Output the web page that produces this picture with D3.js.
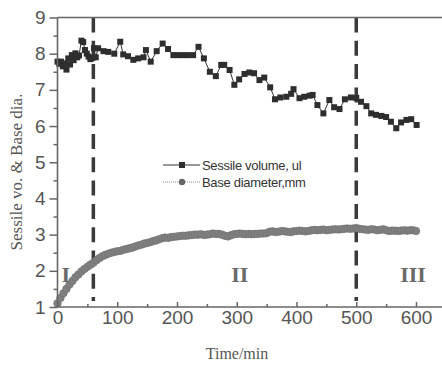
<!DOCTYPE html>
<html>
<head>
<meta charset="utf-8">
<script src="https://cdn.jsdelivr.net/npm/d3@7"></script>
<style>
  body { margin: 0; background: #fff; }
  svg { display: block; }
</style>
</head>
<body>
<div id="chart"></div>
<script>
// Sessile volume (squares), irregular times
const volTime = [0, 3, 6, 9, 12, 15, 18, 21, 24, 27, 30, 33, 36, 40, 43, 46, 49, 52, 55, 58, 61, 64,
  68, 77, 85, 95, 105, 110, 118, 127, 135, 144, 148, 156, 166, 176, 185, 194, 202, 210, 218, 227,
  236, 245, 255, 265, 274, 279, 288, 296, 304, 313, 321, 329, 338, 346, 356, 364, 373, 383, 391,
  395, 405, 413, 422, 427, 435, 445, 455, 463, 472, 481, 491, 500, 508, 517, 525, 533, 542, 550,
  558, 567, 575, 584, 592, 601];
const volValue = [7.78, 7.72, 7.78, 7.65, 7.73, 7.56, 7.87, 7.70, 7.96, 7.82, 8.01, 7.90, 7.95, 8.36, 8.32, 8.10, 8.00, 7.92, 7.85, 7.88, 8.15, 7.90,
  8.15, 8.07, 8.05, 8.00, 8.33, 7.98, 7.93, 7.83, 7.87, 7.90, 8.10, 7.78, 8.07, 8.28, 8.13, 7.96, 7.96, 7.96, 7.96, 7.96,
  8.19, 7.87, 7.50, 7.38, 7.69, 7.69, 7.55, 7.14, 7.29, 7.44, 7.48, 7.46, 7.27, 7.34, 7.07, 6.74, 6.79, 6.81, 6.89,
  7.02, 6.77, 6.81, 6.84, 6.86, 6.58, 6.35, 6.72, 6.52, 6.47, 6.74, 6.79, 6.78, 6.67, 6.55, 6.35, 6.31, 6.28, 6.25,
  6.12, 5.94, 6.10, 6.17, 6.19, 6.03];

// Base diameter (circles), every 5 min from 0 to 600
const diaTime = d3.range(0, 605, 5);
const diaValue = [1.10, 1.25, 1.38, 1.50, 1.62, 1.72, 1.82, 1.90, 1.98, 2.05, 2.11, 2.17, 2.22, 2.29, 2.35, 2.40, 2.44, 2.47, 2.50, 2.52,
  2.54, 2.55, 2.58, 2.60, 2.62, 2.64, 2.67, 2.70, 2.72, 2.75, 2.77, 2.79, 2.82, 2.84, 2.87, 2.90, 2.92, 2.91, 2.93, 2.94,
  2.95, 2.96, 2.97, 2.97, 2.98, 2.99, 3.00, 3.00, 3.01, 2.99, 3.00, 3.01, 3.03, 3.02, 3.02, 3.00, 2.97, 2.95, 2.98, 3.01,
  3.02, 3.03, 3.02, 3.01, 3.02, 3.01, 3.02, 3.02, 3.03, 3.03, 3.04, 3.08, 3.09, 3.07, 3.08, 3.10, 3.09, 3.08, 3.07, 3.09,
  3.10, 3.11, 3.10, 3.09, 3.10, 3.12, 3.13, 3.12, 3.13, 3.14, 3.12, 3.13, 3.14, 3.15, 3.14, 3.15, 3.16, 3.17, 3.16, 3.17,
  3.18, 3.16, 3.15, 3.14, 3.13, 3.15, 3.14, 3.12, 3.13, 3.15, 3.12, 3.10, 3.11, 3.11, 3.10, 3.11, 3.12, 3.11, 3.12, 3.12,
  3.10];

const xTicks = [0, 100, 200, 300, 400, 500, 600];
const xMinor = [50, 150, 250, 350, 450, 550];
const yTicks = [1, 2, 3, 4, 5, 6, 7, 8, 9];
const yMinor = [1.5, 2.5, 3.5, 4.5, 5.5, 6.5, 7.5, 8.5];
const stageLines = [60, 500];
const stages = [{label: "I", t: 14}, {label: "II", t: 305}, {label: "III", t: 595}];
const legendItems = ["Sessile volume, ul", "Base diameter,mm"];

const width = 442;
const height = 366;
const axisColor = "#666";

const svg = d3.select("#chart")
  .append("svg")
    .attr("width", width)
    .attr("height", height);

const x = d3.scaleLinear().domain([0, 600]).range([57.5, 416]);
const y = d3.scaleLinear().domain([1, 9]).range([307, 17.5]);

// Stage dashed lines
svg.append("g")
  .selectAll("line")
  .data(stageLines)
  .join("line")
    .attr("x1", d => x(d))
    .attr("x2", d => x(d))
    .attr("y1", y(9))
    .attr("y2", 301)
    .attr("stroke", "#3a3a3a")
    .attr("stroke-width", 3.5)
    .attr("stroke-dasharray", "15,8.3");

// Base diameter series
const dia = diaTime.map((t, i) => ({t, v: diaValue[i]}));
svg.append("path")
  .datum(dia)
  .attr("fill", "none")
  .attr("stroke", "#888")
  .attr("stroke-width", 1)
  .attr("stroke-dasharray", "1,1")
  .attr("d", d3.line().x(d => x(d.t)).y(d => y(d.v)));
svg.append("g")
  .selectAll("circle")
  .data(dia)
  .join("circle")
    .attr("cx", d => x(d.t))
    .attr("cy", d => y(d.v))
    .attr("r", 3.8)
    .attr("fill", "#808080")
    .attr("stroke", "#6e6e6e")
    .attr("stroke-width", 0.6);

// Sessile volume series
const vol = volTime.map((t, i) => ({t, v: volValue[i]}));
svg.append("path")
  .datum(vol)
  .attr("fill", "none")
  .attr("stroke", "#333")
  .attr("stroke-width", 1)
  .attr("d", d3.line().x(d => x(d.t)).y(d => y(d.v)));
svg.append("g")
  .selectAll("rect")
  .data(vol)
  .join("rect")
    .attr("x", d => x(d.t) - 3)
    .attr("y", d => y(d.v) - 3)
    .attr("width", 6)
    .attr("height", 6)
    .attr("fill", "#2e2e2e");

// Axes
const styleAxis = g => {
  g.select(".domain").remove();
  g.selectAll(".tick line").attr("stroke", axisColor).attr("stroke-width", 1.5);
  g.selectAll(".tick text")
    .attr("fill", "#555")
    .attr("font-family", "Liberation Sans, Arial, sans-serif")
    .attr("font-size", 19);
};

svg.append("g")
  .attr("transform", `translate(0, ${y(1)})`)
  .call(d3.axisBottom(x).tickValues(xTicks).tickSize(-5).tickPadding(4).tickFormat(d3.format("d")))
  .call(styleAxis);
svg.append("g")
  .attr("transform", `translate(0, ${y(1)})`)
  .call(d3.axisBottom(x).tickValues(xMinor).tickSize(-3).tickFormat(""))
  .call(styleAxis);

svg.append("g")
  .attr("transform", `translate(${x(0)}, 0)`)
  .call(d3.axisLeft(y).tickValues(yTicks).tickSize(8).tickPadding(4).tickFormat(d3.format("d")))
  .call(styleAxis);
svg.append("g")
  .attr("transform", `translate(${x(0)}, 0)`)
  .call(d3.axisLeft(y).tickValues(yMinor).tickSize(4).tickFormat(""))
  .call(styleAxis);

// Frame lines: left, bottom, top (run off the right edge)
const frame = svg.append("g")
  .attr("stroke", axisColor)
  .attr("stroke-width", 1.6);
frame.append("line").attr("x1", x(0)).attr("x2", x(0)).attr("y1", y(9)).attr("y2", y(1));
frame.append("line").attr("x1", x(0)).attr("x2", width + 5).attr("y1", y(1)).attr("y2", y(1));
frame.append("line").attr("x1", x(0)).attr("x2", width + 5).attr("y1", y(9)).attr("y2", y(9));

// Stage labels
svg.append("g")
  .selectAll("text")
  .data(stages)
  .join("text")
    .attr("x", d => x(d.t))
    .attr("y", 282)
    .attr("text-anchor", "middle")
    .attr("font-family", "Liberation Serif, Times New Roman, serif")
    .attr("font-weight", "bold")
    .attr("font-size", 22)
    .attr("fill", "#6a6a6a")
    .text(d => d.label);

// Legend
const legend = svg.append("g");
legendItems.forEach((label, i) => {
  const ly = 165 + i * 17;
  legend.append("line")
    .attr("x1", 163).attr("x2", 200)
    .attr("y1", ly).attr("y2", ly)
    .attr("stroke", i === 0 ? "#333" : "#888")
    .attr("stroke-width", 1)
    .attr("stroke-dasharray", i === 0 ? null : "1,1");
  if (i === 0) {
    legend.append("rect")
      .attr("x", 179).attr("y", ly - 3)
      .attr("width", 6).attr("height", 6)
      .attr("fill", "#2e2e2e");
  } else {
    legend.append("circle")
      .attr("cx", 182).attr("cy", ly)
      .attr("r", 3.2)
      .attr("fill", "#666");
  }
  legend.append("text")
    .attr("x", 202)
    .attr("y", ly)
    .attr("dy", "0.35em")
    .attr("font-family", "Liberation Sans, Arial, sans-serif")
    .attr("font-size", 13)
    .attr("letter-spacing", -0.3)
    .attr("fill", "#333")
    .text(label);
});

// Axis titles
svg.append("text")
  .attr("x", 237)
  .attr("y", 359)
  .attr("text-anchor", "middle")
  .attr("font-family", "Liberation Serif, Times New Roman, serif")
  .attr("font-size", 16)
  .attr("fill", "#555")
  .text("Time/min");

svg.append("text")
  .attr("transform", "translate(22, 172) rotate(-90)")
  .attr("text-anchor", "middle")
  .attr("font-family", "Liberation Serif, Times New Roman, serif")
  .attr("font-size", 17)
  .attr("fill", "#555")
  .text("Sessile vo. & Base dia.");
</script>
</body>
</html>
